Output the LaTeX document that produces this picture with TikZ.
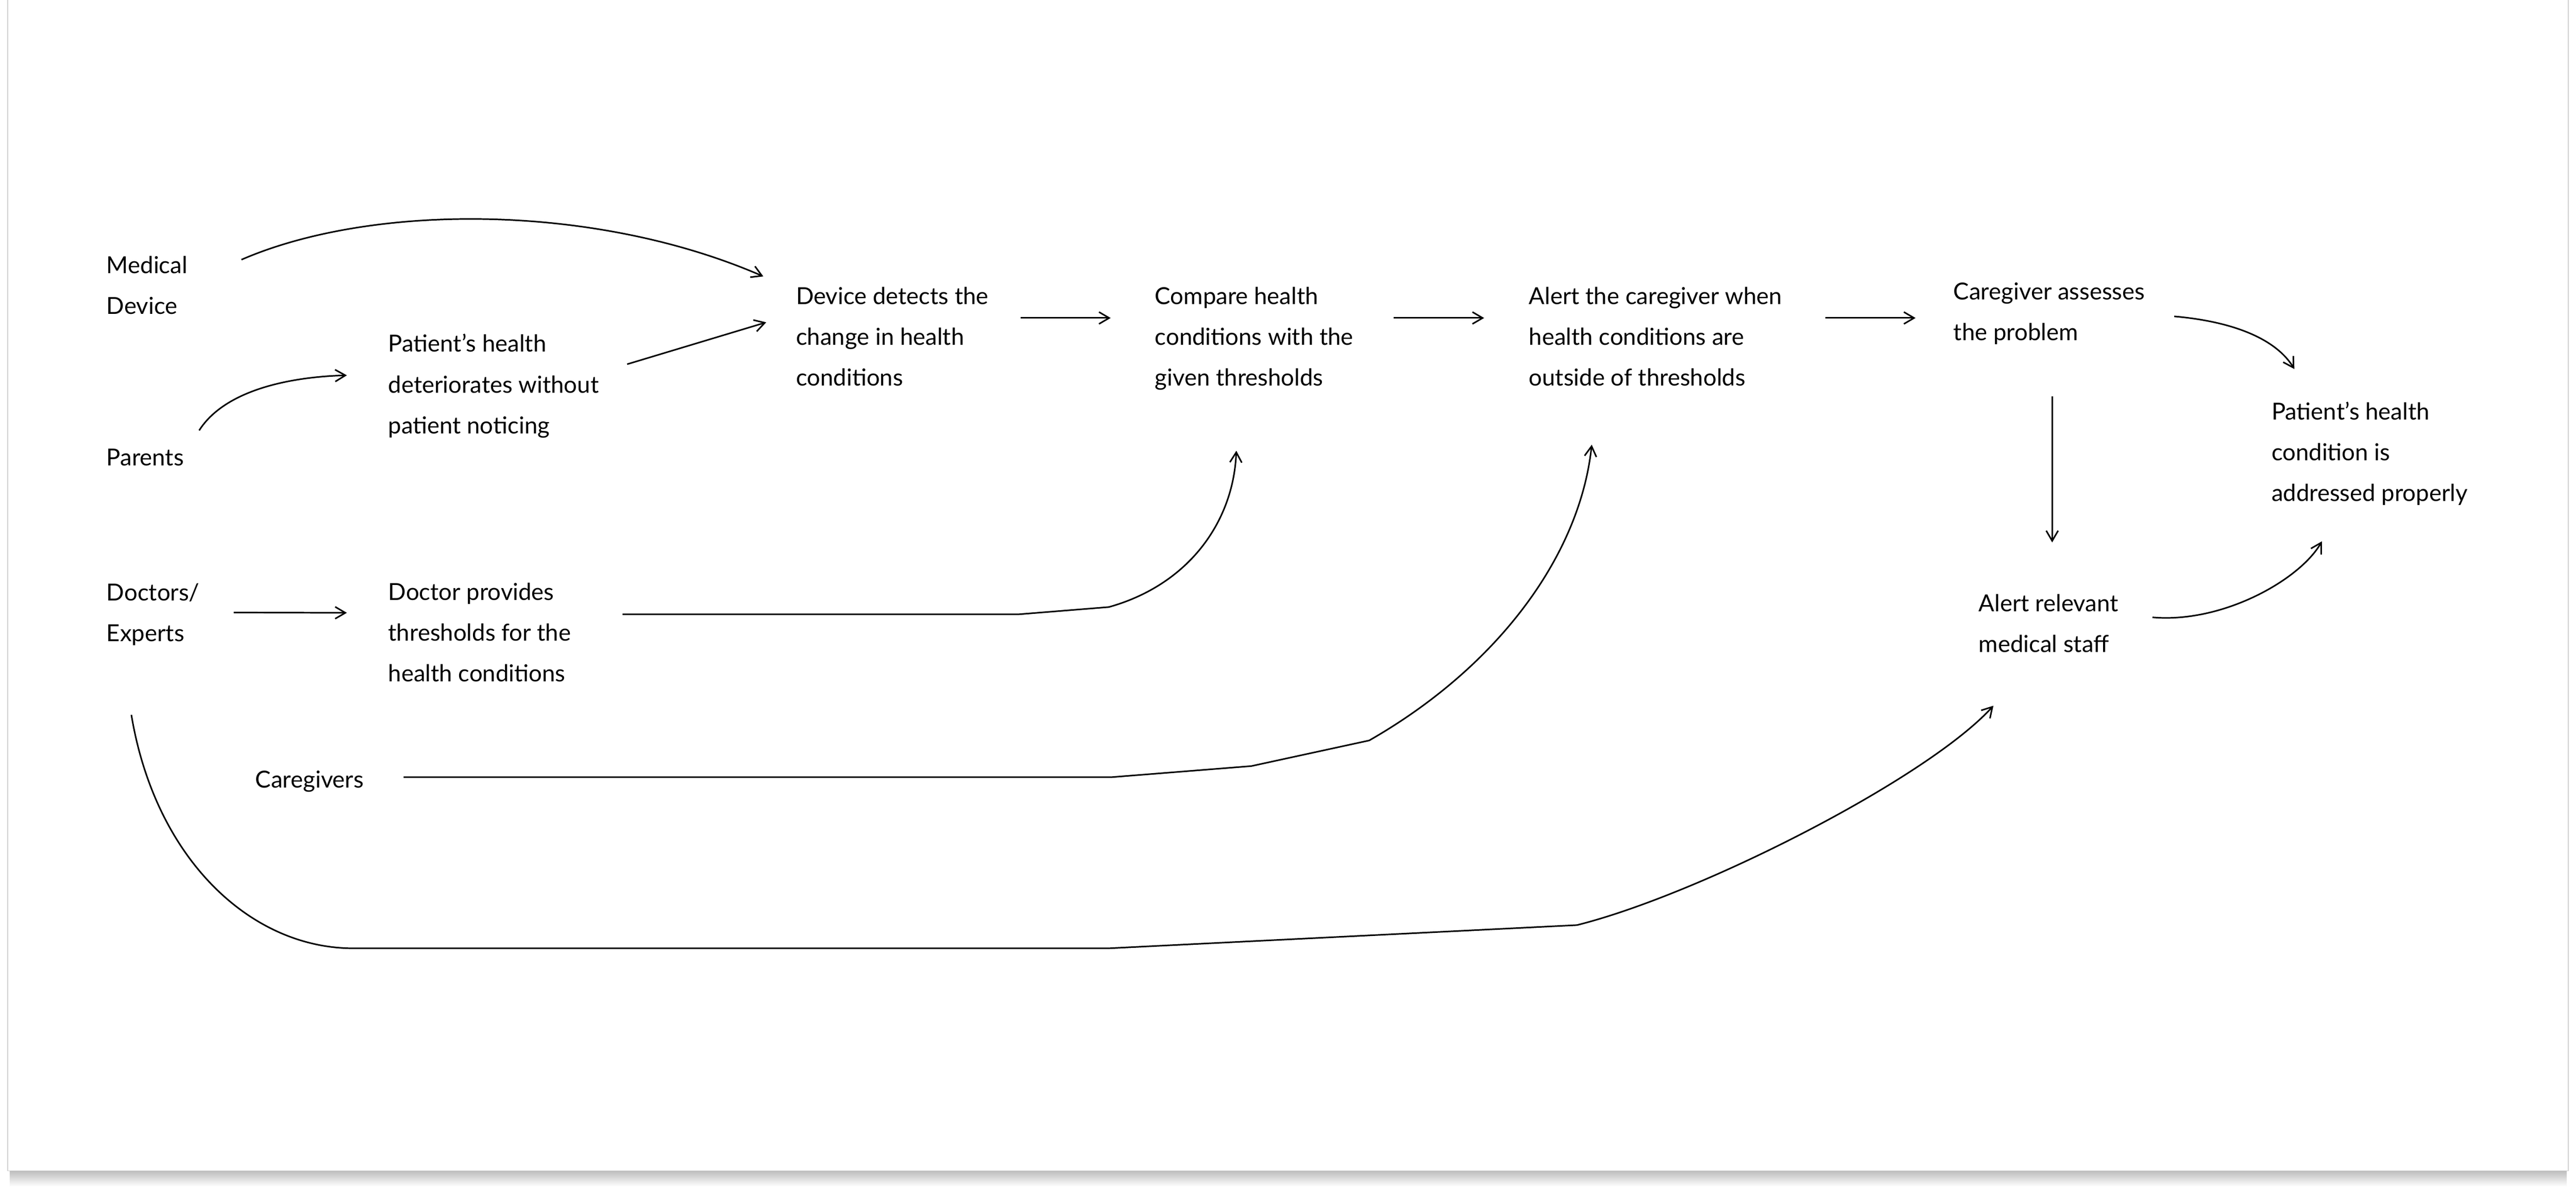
\documentclass[tikz,border=0pt]{standalone}
\usepackage{fontspec}
\setmainfont{Lato}
\usetikzlibrary{arrows.meta}

\begin{document}
\begin{tikzpicture}[%
 txt/.style={
 	align=left,
 	anchor=base west,
 	inner sep=0pt,
 	font=\fontsize{13.8pt}{24pt}\selectfont
 },
 line/.style={
 	draw,
 	line width=0.9pt,
 	-{Straight Barb[length=6pt,width=7pt]}
 }
 ]
% card and its shadow
\useasboundingbox (0,0) rectangle (53.32,-24.55);
\shade[top color=black!28,bottom color=white] (0.2,-24.2) rectangle (53.12,-24.55);
\draw[black!18,fill=white] (0.16,0.2) rectangle (53.16,-24.22);

% base of a node = baseline of its last line
\path (2.20,-6.50) node[txt] (med) {Medical\\Device}
 (2.20,-9.63) node[txt] (parents) {Parents}
 (2.20,-13.27) node[txt] (doctors) {Doctors/\\Experts}
 (5.28,-16.30) node[txt] (caregivers) {Caregivers}
 (8.03,-8.97) node[txt] (patient) {Patient’s health\\deteriorates without\\patient noticing}
 (8.03,-14.10) node[txt] (provide) {Doctor provides\\thresholds for the\\health conditions}
 (16.47,-7.98) node[txt] (detect) {Device detects the\\change in health\\conditions}
 (23.90,-7.98) node[txt] (compare) {Compare health\\conditions with the\\given thresholds}
 (31.64,-7.98) node[txt] (alert) {Alert the caregiver when\\health conditions are\\outside of thresholds}
 (40.43,-7.04) node[txt] (assess) {Caregiver assesses\\the problem}
 (40.95,-13.50) node[txt] (staff) {Alert relevant\\medical staff}
 (47.01,-10.37) node[txt] (addressed) {Patient’s health\\condition is\\addressed properly};

% inputs
\draw[line] ([shift={(1.11,-0.08)}]med.north east) .. controls (7.70,-4.20) and (12.30,-4.20) .. ([shift={(-0.67,0.21)}]detect.north west);
\draw[line] ([shift={(0.31,0.37)}]parents.north east) .. controls (4.70,-8.00) and (6.20,-7.79) .. ([shift={(-0.85,-0.86)}]patient.north west);
\draw[line] ([shift={(0.58,-0.63)}]patient.north east) -- ([shift={(-0.61,-0.74)}]detect.north west);
\draw[line] ([shift={(0.70,-0.61)}]doctors.north east) -- ([shift={(-0.85,-0.63)}]provide.north west);

% main chain
\draw[line] ([shift={(0.66,-0.65)}]detect.north east) -- ([shift={(-0.91,-0.65)}]compare.north west);
\draw[line] ([shift={(0.83,-0.65)}]compare.north east) -- ([shift={(-0.92,-0.65)}]alert.north west);
\coordinate (assin) at ([xshift=-0.78cm]assess.north west);
\draw[line] ([shift={(0.89,-0.65)}]alert.north east) coordinate (right) -- (assin |- right);
\draw[line] ([shift={(0.60,-0.71)}]assess.north east) .. controls (46.20,-6.65) and (47.10,-7.00) .. ([shift={(0.48,0.67)}]addressed.north west);
\coordinate (stafftop) at ([yshift=1.07cm]staff.north);
\draw[line] ([shift={(0.06,-1.07)}]assess.south) coordinate (down) -- (down |- stafftop);
\draw[line] ([shift={(0.70,-0.48)}]staff.north east) .. controls (46.00,-12.90) and (47.60,-12.00) .. ([shift={(1.05,-0.74)}]addressed.south west);

% long feeds
\draw[line] ([shift={(1.06,-0.66)}]provide.north east) -- (21.08,-12.71) -- (22.95,-12.56) .. controls (24.60,-12.10) and (25.53,-10.80) .. ([shift={(-0.37,-1.25)}]compare.south);
\draw[line] ([shift={(0.82,-0.14)}]caregivers.north east) -- (23.00,-16.08) -- (25.90,-15.85) -- (28.34,-15.32) .. controls (31.00,-13.80) and (32.70,-11.50) .. ([shift={(-1.32,-1.21)}]alert.south);
\draw[line] ([shift={(-0.45,-1.43)}]doctors.south) .. controls (3.22,-17.79) and (5.20,-19.62) .. (7.31,-19.62) -- (22.95,-19.62) -- (32.64,-19.14) .. controls (35.20,-18.50) and (39.90,-16.10) .. ([shift={(-1.14,-1.09)}]staff.south);
\end{tikzpicture}
\end{document}
